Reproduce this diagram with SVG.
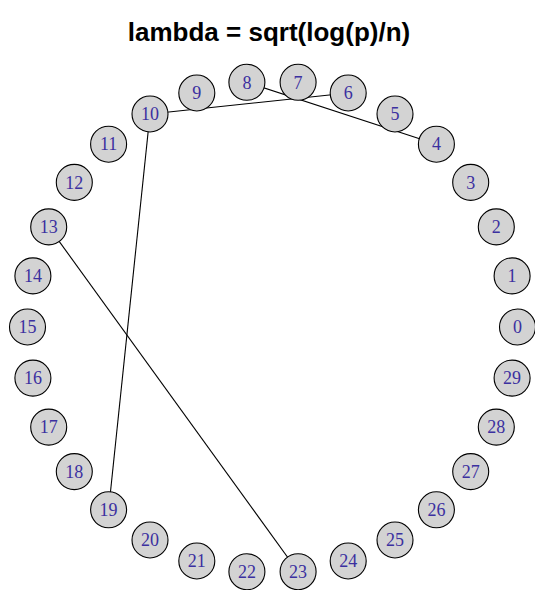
<svg xmlns="http://www.w3.org/2000/svg" width="535" height="590" viewBox="0 0 535 590">
<style>
.n circle{fill:#d3d3d3;stroke:#000;stroke-width:1.1}
.n text{font-family:"Liberation Serif","Times New Roman",serif;font-size:18px;fill:#3b30a0;text-anchor:middle}
.e line{stroke:#000;stroke-width:1.1}
.t{font-family:"Liberation Sans",Arial,sans-serif;font-weight:bold;font-size:26px;text-anchor:middle;fill:#000}
</style>
<rect width="535" height="590" fill="#fff"/>
<text class="t" x="269" y="41">lambda = sqrt(log(p)/n)</text>
<g id="edges" class="e">
<line x1="246.9" y1="82.3" x2="436.4" y2="144.2"/>
<line x1="150" y1="114" x2="348.2" y2="93"/>
<line x1="150" y1="114" x2="108.6" y2="509.8"/>
<line x1="48.7" y1="226.9" x2="298.1" y2="571.7"/>
</g>
<g id="n0" class="n"><circle cx="517.5" cy="327" r="18"/><text x="517.5" y="333.2">0</text></g>
<g id="n1" class="n"><circle cx="512.1" cy="275.9" r="18"/><text x="512.1" y="282.1">1</text></g>
<g id="n2" class="n"><circle cx="496.3" cy="226.9" r="18"/><text x="496.3" y="233.1">2</text></g>
<g id="n3" class="n"><circle cx="470.7" cy="182.4" r="18"/><text x="470.7" y="188.6">3</text></g>
<g id="n4" class="n"><circle cx="436.4" cy="144.2" r="18"/><text x="436.4" y="150.4">4</text></g>
<g id="n5" class="n"><circle cx="395" cy="114" r="18"/><text x="395" y="120.2">5</text></g>
<g id="n6" class="n"><circle cx="348.2" cy="93" r="18"/><text x="348.2" y="99.2">6</text></g>
<g id="n7" class="n"><circle cx="298.1" cy="82.3" r="18"/><text x="298.1" y="88.5">7</text></g>
<g id="n8" class="n"><circle cx="246.9" cy="82.3" r="18"/><text x="246.9" y="88.5">8</text></g>
<g id="n9" class="n"><circle cx="196.8" cy="93" r="18"/><text x="196.8" y="99.2">9</text></g>
<g id="n10" class="n"><circle cx="150" cy="114" r="18"/><text x="150" y="120.2">10</text></g>
<g id="n11" class="n"><circle cx="108.6" cy="144.2" r="18"/><text x="108.6" y="150.4">11</text></g>
<g id="n12" class="n"><circle cx="74.3" cy="182.4" r="18"/><text x="74.3" y="188.6">12</text></g>
<g id="n13" class="n"><circle cx="48.7" cy="226.9" r="18"/><text x="48.7" y="233.1">13</text></g>
<g id="n14" class="n"><circle cx="32.9" cy="275.9" r="18"/><text x="32.9" y="282.1">14</text></g>
<g id="n15" class="n"><circle cx="27.5" cy="327" r="18"/><text x="27.5" y="333.2">15</text></g>
<g id="n16" class="n"><circle cx="32.9" cy="378.1" r="18"/><text x="32.9" y="384.3">16</text></g>
<g id="n17" class="n"><circle cx="48.7" cy="427.1" r="18"/><text x="48.7" y="433.3">17</text></g>
<g id="n18" class="n"><circle cx="74.3" cy="471.6" r="18"/><text x="74.3" y="477.8">18</text></g>
<g id="n19" class="n"><circle cx="108.6" cy="509.8" r="18"/><text x="108.6" y="516">19</text></g>
<g id="n20" class="n"><circle cx="150" cy="540" r="18"/><text x="150" y="546.2">20</text></g>
<g id="n21" class="n"><circle cx="196.8" cy="561" r="18"/><text x="196.8" y="567.2">21</text></g>
<g id="n22" class="n"><circle cx="246.9" cy="571.7" r="18"/><text x="246.9" y="577.9">22</text></g>
<g id="n23" class="n"><circle cx="298.1" cy="571.7" r="18"/><text x="298.1" y="577.9">23</text></g>
<g id="n24" class="n"><circle cx="348.2" cy="561" r="18"/><text x="348.2" y="567.2">24</text></g>
<g id="n25" class="n"><circle cx="395" cy="540" r="18"/><text x="395" y="546.2">25</text></g>
<g id="n26" class="n"><circle cx="436.4" cy="509.8" r="18"/><text x="436.4" y="516">26</text></g>
<g id="n27" class="n"><circle cx="470.7" cy="471.6" r="18"/><text x="470.7" y="477.8">27</text></g>
<g id="n28" class="n"><circle cx="496.3" cy="427.1" r="18"/><text x="496.3" y="433.3">28</text></g>
<g id="n29" class="n"><circle cx="512.1" cy="378.1" r="18"/><text x="512.1" y="384.3">29</text></g>
</svg>
